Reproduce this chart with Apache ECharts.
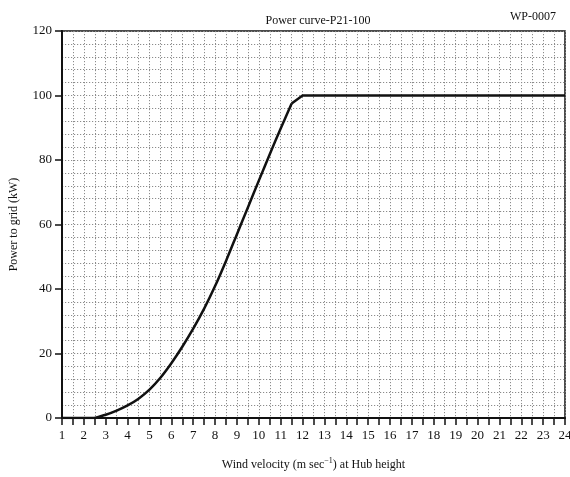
<!DOCTYPE html>
<html>
<head>
<meta charset="utf-8">
<script src="https://cdn.jsdelivr.net/npm/echarts@6/dist/echarts.min.js"></script>
<style>
  html, body { margin: 0; padding: 0; background: #fff; }
  #chart { width: 570px; height: 477px; }
</style>
</head>
<body>
<div id="chart"></div>
<script>
// wind speed (m/s) and power (kW)
var windSpeed = [1, 1.5, 2, 2.5, 3, 3.5, 4, 4.5, 5, 5.5, 6, 6.5, 7, 7.5, 8, 8.5, 9, 9.5, 10, 10.5, 11, 11.5, 12,
  13, 14, 15, 16, 17, 18, 19, 20, 21, 22, 23, 24];
var power = [0, 0, 0, 0, 1, 2.3, 3.9, 6.0, 8.8, 12.5, 17.0, 22.1, 27.7, 33.9, 40.9, 48.7, 57.0, 65.3, 73.6, 81.8, 89.8, 97.5, 100,
  100, 100, 100, 100, 100, 100, 100, 100, 100, 100, 100, 100];

// cut-in and near-rated speeds: the curve between them is drawn smooth
var cutIn = 2.5;
var kneeSpeed = 11.5;

var titleText = 'Power curve-P21-100';
var codeText = 'WP-0007';
var yName = 'Power to grid (kW)';

var font = 'Liberation Serif';

var chart = echarts.init(document.getElementById('chart'));

var points = windSpeed.map(function (v, i) { return [v, power[i]]; });
var i0 = windSpeed.indexOf(cutIn);
var i1 = windSpeed.indexOf(kneeSpeed);
var lowPart = points.slice(0, i0 + 1);
var rampPart = points.slice(i0, i1 + 1);
var topPart = points.slice(i1);

var gridDots = { color: '#8c8c8c', width: 1, type: [1.2, 1.8] };
var curveStyle = { color: '#111', width: 2.5 };

var option = {
  animation: false,
  backgroundColor: '#fff',
  textStyle: { fontFamily: font },
  title: [{
    text: titleText,
    left: 313, top: 10, textAlign: 'center',
    textStyle: { fontFamily: font, fontSize: 12, fontWeight: 'normal', color: '#111' }
  }, {
    text: codeText,
    left: 528, top: 6, textAlign: 'center',
    textStyle: { fontFamily: font, fontSize: 12, fontWeight: 'normal', color: '#111' }
  }],
  grid: {
    left: 62, right: 5, top: 31, bottom: 59,
    outerBoundsMode: 'none',
    containLabel: false,
    show: true, borderColor: '#111', borderWidth: 1.5
  },
  xAxis: {
    type: 'value',
    min: 1, max: 24, interval: 1,
    name: '{n|Wind velocity (m sec}{s|−1}{n|) at Hub height}',
    nameLocation: 'middle', nameGap: 39,
    nameTextStyle: {
      rich: {
        n: { fontFamily: font, fontSize: 12, color: '#111', lineHeight: 16 },
        s: { fontFamily: font, fontSize: 8, color: '#111', lineHeight: 16, verticalAlign: 'top', padding: [0, 0, 5, 0] }
      }
    },
    axisLine: { onZero: false, lineStyle: { color: '#111', width: 2 } },
    axisTick: { show: true, inside: false, length: 7, lineStyle: { color: '#111', width: 1.5 } },
    minorTick: { show: true, splitNumber: 2, length: 7, lineStyle: { color: '#111', width: 1.5 } },
    axisLabel: { fontFamily: font, fontSize: 13, color: '#111', margin: 11 },
    splitLine: { show: true, lineStyle: gridDots },
    minorSplitLine: { show: true, lineStyle: gridDots }
  },
  yAxis: {
    type: 'value',
    min: 0, max: 120, interval: 20,
    name: yName,
    nameLocation: 'middle', nameGap: 42,
    nameTextStyle: { fontFamily: font, fontSize: 12, color: '#111' },
    axisLine: { show: true, onZero: false, lineStyle: { color: '#111', width: 2 } },
    axisTick: { show: true, inside: false, length: 7, lineStyle: { color: '#111', width: 1.5 } },
    minorTick: { show: false, splitNumber: 5 },
    axisLabel: { fontFamily: font, fontSize: 13, color: '#111', margin: 10 },
    splitLine: { show: true, lineStyle: gridDots },
    minorSplitLine: { show: true, lineStyle: gridDots }
  },
  series: [{
    type: 'line', data: lowPart, showSymbol: false, lineStyle: curveStyle, z: 5
  }, {
    type: 'line', data: rampPart, showSymbol: false, smooth: 0.3, lineStyle: curveStyle, z: 5
  }, {
    type: 'line', data: topPart, showSymbol: false, lineStyle: curveStyle, z: 5
  }]
};

chart.setOption(option);
</script>
</body>
</html>
